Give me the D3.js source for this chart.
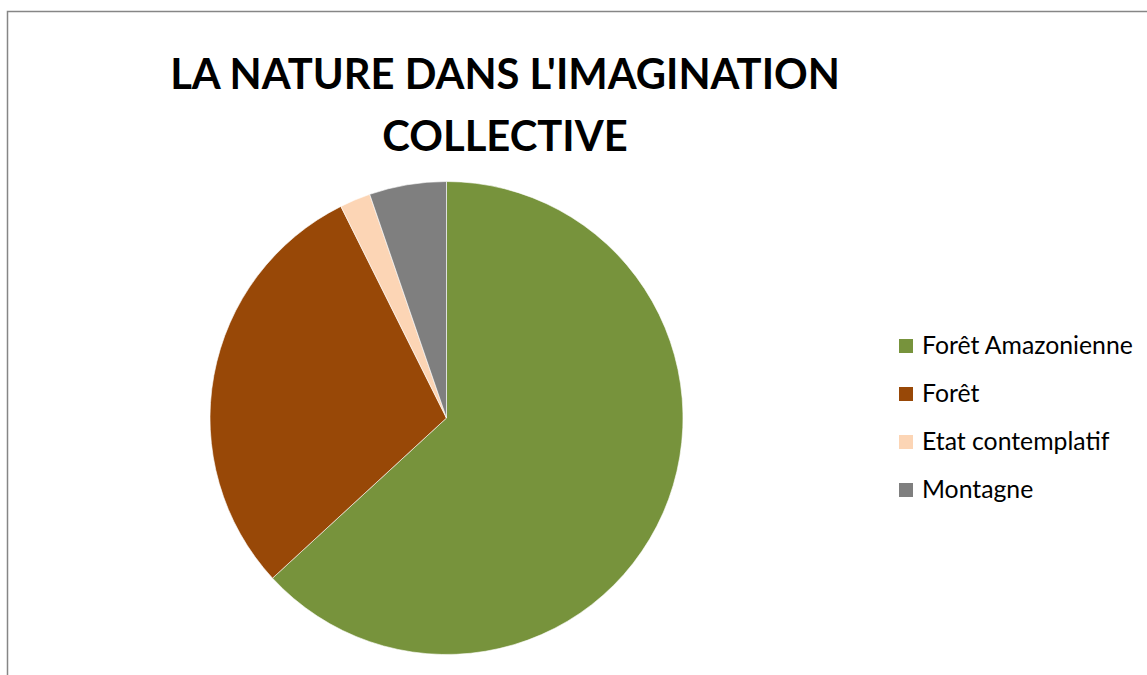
<!DOCTYPE html>
<html>
<head>
<meta charset="utf-8">
<script src="https://cdn.jsdelivr.net/npm/d3@7"></script>
<style>
  body { margin: 0; background: #fff; }
  svg text { font-family: Lato, 'Open Sans', sans-serif; }
</style>
</head>
<body>
<svg id="chart" width="1147" height="675"></svg>
<script>
// data
var titleLines = ["LA NATURE DANS L'IMAGINATION", "COLLECTIVE"];
var categories = ["Forêt Amazonienne", "Forêt", "Etat contemplatif", "Montagne"];
var values = [60, 28, 2, 5];
var colors = ["#77933c", "#984807", "#fcd5b5", "#7f7f7f"];

var svg = d3.select("#chart");

// chart area frame (runs off right/bottom edge)
svg.append("rect")
    .attr("x", 7.5).attr("y", 11.5)
    .attr("width", 1200).attr("height", 700)
    .attr("fill", "#fff")
    .attr("stroke", "#868686")
    .attr("stroke-width", 1.5);

// title
var title = svg.append("g").attr("class", "title");
titleLines.forEach(function(t, i) {
    title.append("text")
        .attr("x", 505)
        .attr("y", 89 + i * 62)
        .attr("text-anchor", "middle")
        .attr("font-weight", "bold")
        .attr("font-size", 44)
        .attr("fill", "#000")
        .text(t);
});
// shrink/grow title so first line spans ~670px
var w0 = title.select("text").node().getComputedTextLength();
title.selectAll("text").attr("font-size", 44 * 670 / w0);

// pie
var cx = 446.5, cy = 418, r = 236.5;
var pie = d3.pie().sort(null);
var arc = d3.arc().innerRadius(0).outerRadius(r);

var g = svg.append("g").attr("transform", "translate(" + cx + "," + cy + ")");
g.selectAll("path.slice")
    .data(pie(values))
    .enter()
    .append("path")
    .attr("class", "slice")
    .attr("d", arc)
    .attr("fill", function(d, i) { return colors[i]; })
    .attr("stroke", "#fff")
    .attr("stroke-width", 0.6);

// legend
var legend = svg.append("g").attr("transform", "translate(899,339)");
var rows = legend.selectAll("g.row")
    .data(categories)
    .enter()
    .append("g")
    .attr("class", "row")
    .attr("transform", function(d, i) { return "translate(0," + (i * 48) + ")"; });

rows.append("rect")
    .attr("width", 14).attr("height", 14)
    .attr("fill", function(d, i) { return colors[i]; });

rows.append("text")
    .attr("x", 23)
    .attr("y", 15)
    .attr("font-size", 20)
    .attr("fill", "#000")
    .text(function(d) { return d; });

var lw = rows.select("text").node().getComputedTextLength();
rows.selectAll("text").attr("font-size", 20 * 211 / lw);
</script>
</body>
</html>
